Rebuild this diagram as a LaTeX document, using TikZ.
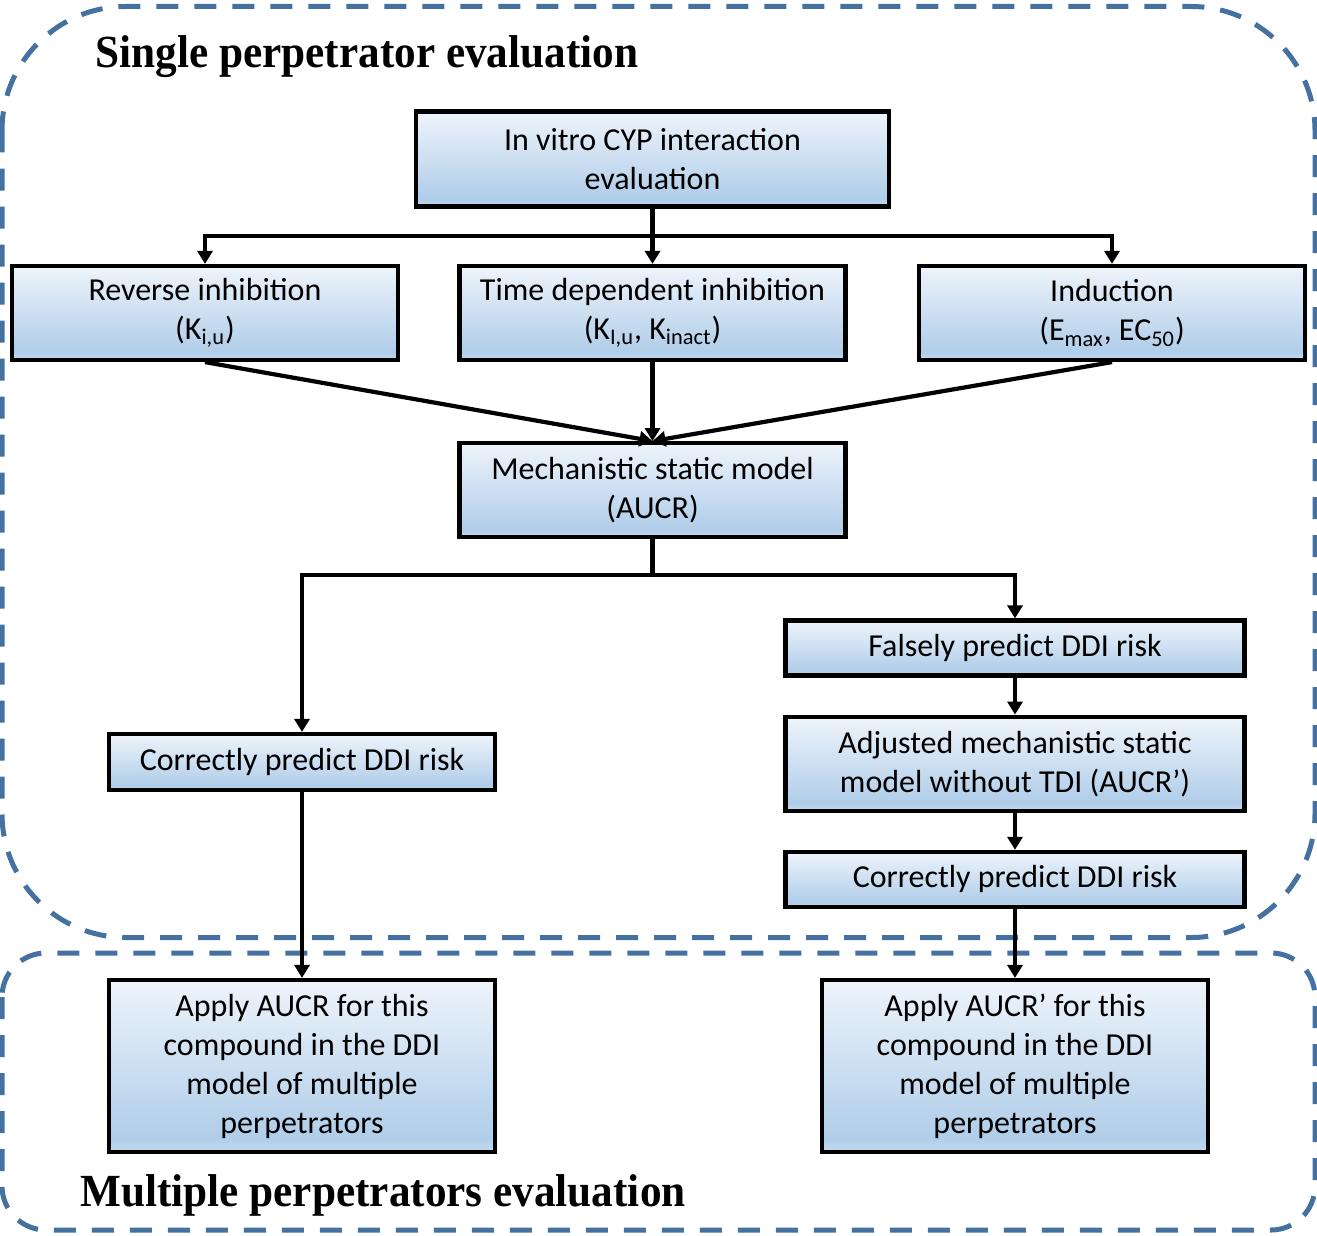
\documentclass[tikz,border=0pt]{standalone}
\usepackage{fontspec}
\setmainfont{Carlito}
\newfontfamily\titlefont[FakeStretch=0.94]{Liberation Serif}
\usetikzlibrary{arrows.meta,positioning}
\definecolor{frame}{HTML}{44719F}
\definecolor{boxtop}{HTML}{EEF4FB}
\definecolor{boxbot}{HTML}{B0CDE9}
\definecolor{boxlow}{HTML}{C4DBEF}
\pgfdeclareverticalshading{boxshade}{100bp}{color(0bp)=(boxlow); color(25bp)=(boxlow);
  color(29bp)=(boxbot); color(75bp)=(boxtop); color(100bp)=(boxtop)}

\begin{document}
\begin{tikzpicture}[
  x=0.5pt, y=-0.5pt,
  box/.style={rectangle, draw=black, line width=2.1pt, shade, shading=boxshade, align=center,
              inner sep=0pt, minimum width=193pt, minimum height=47pt,
              font=\fontsize{16}{19.5}\selectfont},
  wide/.style={minimum width=229.5pt},
  slim/.style={minimum height=27.5pt},
  group/.style={draw=frame, line width=2.5pt, dash pattern=on 11pt off 8pt},
  heading/.style={anchor=base west, inner sep=0pt, font=\titlefont\bfseries\fontsize{23}{27}\selectfont},
  ln/.style={line width=2.1pt},
  ar/.style={ln, -{Triangle[width=7.5pt,length=6.5pt]}},
]
\useasboundingbox (0,0) rectangle (1317,1236);
% the two evaluation stages
\draw[group, rounded corners=62pt] (2,6.5) rectangle (1315,937.5);
\draw[group, rounded corners=22pt] (2,953) rectangle (1315,1230);
\node[heading] (single) at (95,68) {Single perpetrator evaluation};
\node[heading] (multi) at (80,1206) {Multiple perpetrators evaluation};

\node[box, minimum width=236.5pt, minimum height=47.5pt] (vitro) at (652.5,159)
  {In vitro CYP interaction\\evaluation};
\node[box] (rev) at (205,313) {Reverse inhibition\\(K\textsubscript{i,u})};
\node[box] (tdi) at (652.5,313) {Time dependent inhibition\\(K\textsubscript{I,u}, K\textsubscript{inact})};
\node[box] (ind) at (1112,313) {Induction\\(E\textsubscript{max}, EC\textsubscript{50})};
\node[box, below=39.5pt of tdi] (mech) {Mechanistic static model\\(AUCR)};
\node[box, wide, slim] (fals) at (1015,648) {Falsely predict DDI risk};
\node[box, wide, below=18.5pt of fals] (adj) {Adjusted mechanistic static\\model without TDI (AUCR’)};
\node[box, wide, slim, below=18.5pt of adj] (corrR) {Correctly predict DDI risk};
\node[box, minimum height=28pt] (corrL) at (302,762) {Correctly predict DDI risk};
\node[box, minimum height=86pt] (applyL) at (302,1066)
  {Apply AUCR for this\\compound in the DDI\\model of multiple\\perpetrators};
\node[box, minimum height=86pt] (applyR) at (1015,1066)
  {Apply AUCR’ for this\\compound in the DDI\\model of multiple\\perpetrators};

\foreach \t in {rev,tdi,ind} \draw[ar] (vitro.south) -- ++(0,27) -| (\t.north);
\foreach \t in {rev,tdi,ind} \draw[ar] (\t.south) -- (mech.north);
\foreach \t in {corrL,fals} \draw[ar] (mech.south) -- ++(0,36) -| (\t.north);
\draw[ar] (fals) -- (adj);
\draw[ar] (adj) -- (corrR);
\draw[ar] (corrR.south) -- (applyR.north);
\draw[ar] (corrL.south) -- (applyL.north);
\end{tikzpicture}
\end{document}
